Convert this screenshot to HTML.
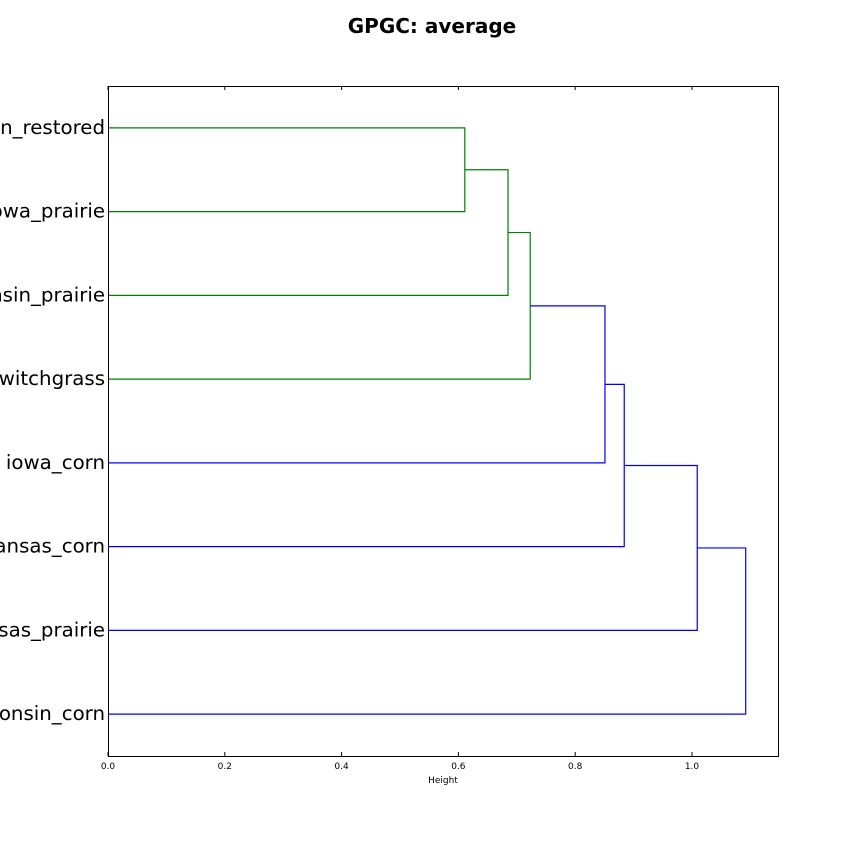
<!DOCTYPE html>
<html><head><meta charset="utf-8"><style>
body{margin:0;background:#fff}
svg{display:block;font-family:"DejaVu Sans","Liberation Sans",sans-serif}
</style></head><body>
<svg width="864" height="864">
<text x="432" y="33" text-anchor="middle" font-size="20" font-weight="bold">GPGC: average</text>
<g id="plot"></g>
<rect x="108.5" y="86.5" width="670" height="670" fill="none" stroke="#000" stroke-width="1"/>
<text x="443" y="783" text-anchor="middle" font-size="9">Height</text>
</svg>
<script>
const leaves=["wisconsin_restored","iowa_prairie","wisconsin_prairie","switchgrass","iowa_corn","kansas_corn","kansas_prairie","wisconsin_corn"];
const mergeLeft=[0,"m0","m1","m2","m3","m4","m5"];
const mergeRight=[1,2,3,4,5,6,7];
const mergeHeights=[0.611,0.685,0.723,0.851,0.884,1.009,1.092];
const mergeColors=["green","green","green","blue","blue","blue","blue"];
const xTicks=[0,0.2,0.4,0.6,0.8,1.0];
const xTickLabels=["0.0","0.2","0.4","0.6","0.8","1.0"];
const L=108,T=86,W=670,H=670,XMAX=1.1473;
const xs=v=>L+v/XMAX*W;
const ys=i=>T+H*(i+0.5)/leaves.length;
const g=document.getElementById('plot');
const NS="http://www.w3.org/2000/svg";
function mk(tag,at){const e=document.createElementNS(NS,tag);for(const k in at)e.setAttribute(k,at[k]);g.appendChild(e);return e;}
leaves.forEach((n,i)=>{
 const t=mk('text',{x:105,y:ys(i)+6,'text-anchor':'end','font-size':19.8});
 t.textContent=n;
 
 
});
xTicks.forEach((v,i)=>{
 const x=xs(v);
 const a=mk('line',{x1:x,x2:x,y1:T,y2:T+4,stroke:'#000'});
 
 
 const b=mk('line',{x1:x,x2:x,y1:T+H,y2:T+H-4,stroke:'#000'});
 
 
 const t=mk('text',{x:x,y:T+H+13,'text-anchor':'middle','font-size':9});
 t.textContent=xTickLabels[i];
 
 
});
const nodes={};
function pos(k){if(typeof k==='number')return{y:ys(k),h:0};return nodes[k];}
mergeHeights.forEach((h,i)=>{
 const a=pos(mergeLeft[i]),b=pos(mergeRight[i]);
 const x=xs(h),c=mergeColors[i];
 const p=mk('path',{d:`M${xs(a.h)},${a.y}H${x}V${b.y}H${xs(b.h)}`,fill:'none',stroke:c,'stroke-width':1.2});
 
 
 nodes['m'+i]={y:(a.y+b.y)/2,h:h};
});
</script>
</body></html>
